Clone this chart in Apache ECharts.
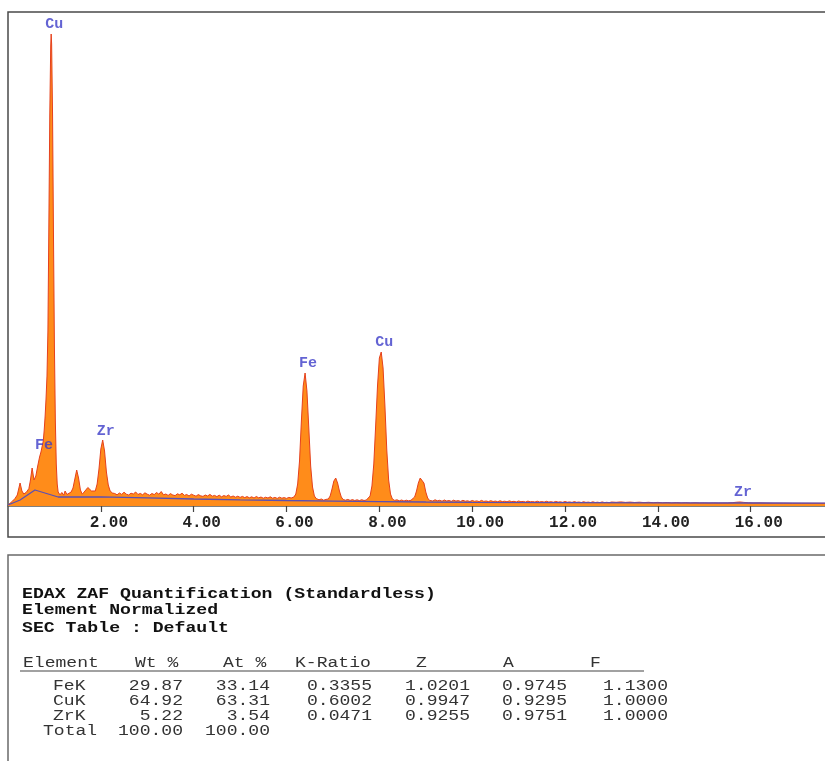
<!DOCTYPE html>
<html><head><meta charset="utf-8">
<script src="https://cdn.jsdelivr.net/npm/echarts@6/dist/echarts.min.js"></script>
<style>html,body{margin:0;padding:0;background:#fff}#c{width:825px;height:761px}</style>
</head><body><div id="c"></div>
<script>
// EDS spectrum: [energy keV, counts]
const spectrum = [
[0.00,10],[0.05,30],[0.10,50],[0.15,75],[0.20,110],[0.23,170],[0.26,230],[0.30,150],[0.34,120],
[0.40,140],[0.45,175],[0.48,250],[0.52,380],[0.56,260],[0.60,300],[0.64,400],[0.68,490],[0.71,540],
[0.74,560],[0.76,650],[0.78,760],[0.80,900],[0.82,1080],[0.84,1300],[0.86,1750],[0.88,2800],[0.90,3900],
[0.92,4600],[0.93,4720],[0.94,4620],[0.96,3900],[0.98,2700],[1.00,1600],[1.02,850],[1.04,420],[1.06,220],
[1.08,140],[1.12,112],[1.16,135],[1.20,108],[1.23,150],[1.27,115],[1.31,128],[1.36,140],[1.40,180],[1.44,270],
[1.48,360],[1.52,280],[1.56,160],[1.60,118],[1.64,140],[1.68,128],[1.72,185],[1.76,190],[1.80,150],
[1.84,130],[1.88,150],[1.92,220],[1.96,370],[2.00,570],[2.04,660],[2.08,550],[2.12,340],[2.16,210],
[2.20,150],[2.25,130],
[2.30,125],[2.35,112],[2.40,130],[2.45,116],[2.50,138],[2.55,118],[2.60,110],[2.65,128],[2.70,120],
[2.75,140],[2.80,115],[2.85,126],[2.90,112],[2.95,132],[3.00,118],[3.05,108],[3.10,125],[3.15,114],
[3.20,135],[3.25,118],[3.30,145],[3.35,112],[3.40,120],[3.45,106],[3.50,124],[3.55,110],[3.60,104],
[3.65,122],[3.70,112],[3.75,128],[3.80,106],[3.85,115],[3.90,100],[3.95,118],[4.00,108],[4.05,98],
[4.10,114],[4.15,102],[4.20,96],[4.25,110],[4.30,100],[4.35,116],[4.40,98],[4.45,106],[4.50,94],
[4.55,108],[4.60,92],[4.65,104],[4.70,96],[4.75,110],[4.80,90],[4.85,100],[4.90,88],[4.95,98],
[5.00,86],[5.05,96],[5.10,84],[5.15,94],[5.20,82],[5.25,92],[5.30,80],[5.35,95],[5.40,82],[5.45,90],
[5.50,78],[5.55,88],[5.60,80],[5.65,92],[5.70,78],[5.75,86],[5.80,76],[5.85,88],[5.90,78],[5.95,84],
[6.00,76],[6.05,86],[6.10,80],
[6.16,90],[6.20,120],[6.24,220],[6.28,450],[6.32,850],
[6.36,1200],[6.40,1330],[6.44,1150],[6.48,780],[6.52,400],[6.56,190],[6.60,100],[6.64,75],[6.70,62],
[6.75,70],[6.80,58],[6.85,66],[6.90,70],[6.94,100],[6.98,170],[7.02,250],[7.06,280],[7.10,230],
[7.14,150],[7.18,90],[7.22,65],[7.27,58],[7.32,66],[7.37,56],[7.42,64],[7.47,55],[7.52,62],[7.57,54],
[7.62,63],[7.67,55],[7.72,60],[7.76,70],[7.80,100],
[7.84,200],[7.88,420],[7.92,800],[7.96,1200],[8.00,1480],[8.04,1540],[8.08,1380],[8.12,1000],
[8.16,560],[8.20,260],[8.24,120],[8.28,70],[8.33,56],[8.38,62],[8.43,52],[8.48,60],[8.53,50],[8.58,58],
[8.63,52],[8.68,57],[8.72,62],
[8.76,90],[8.80,150],[8.84,230],[8.88,280],[8.92,290],[8.96,230],[9.00,140],[9.04,80],[9.08,56],
[9.15,50],[9.20,62],[9.25,52],[9.30,57],[9.35,48],[9.40,60],[9.45,50],[9.50,55],[9.55,47],[9.60,58],
[9.65,49],[9.70,54],[9.75,46],[9.80,57],[9.85,48],[9.90,52],[9.95,45],[10.00,55],[10.05,47],[10.10,51],
[10.15,44],[10.20,56],[10.25,46],[10.30,50],[10.35,44],[10.40,53],[10.45,45],[10.50,49],[10.55,43],
[10.60,52],[10.65,44],[10.70,48],[10.75,42],[10.80,51],[10.85,44],[10.90,47],[10.95,41],[11.00,50],
[11.05,43],[11.10,46],[11.15,40],[11.20,49],[11.25,42],[11.30,45],[11.35,40],[11.40,48],[11.45,41],
[11.50,44],[11.55,39],[11.60,47],[11.65,40],[11.70,43],[11.75,38],[11.80,46],[11.85,39],[11.90,42],
[11.95,37],[12.00,45],[12.05,38],[12.10,41],[12.15,36],[12.20,44],[12.25,37],[12.30,40],[12.35,35],
[12.40,43],[12.45,36],[12.50,39],[12.55,35],[12.60,42],[12.65,35],[12.70,38],[12.75,34],[12.80,41],
[12.85,34],[12.90,37],[12.95,33],[13.00,40],
[13.10,37],[13.20,41],[13.30,36],[13.40,39],[13.50,35],[13.60,38],[13.70,34],
[13.80,37],[13.90,33],[14.00,36],[14.10,32],[14.20,35],[14.30,31],[14.40,34],[14.50,31],[14.60,33],
[14.70,30],[14.80,32],[14.90,30],[15.00,31],[15.10,29],[15.20,31],[15.30,29],[15.40,30],[15.50,30],
[15.60,33],[15.70,38],[15.77,40],[15.85,36],[15.95,32],[16.05,30],[16.20,31],[16.35,29],[16.50,28],
[16.70,28],[16.90,27],[17.10,27],[17.30,27],[17.60,27]
];
// Background (bremsstrahlung) fit
const background = [
[0.00,10],[0.26,60],[0.58,160],[1.08,90],[2.00,92],[3.00,82],[4.00,70],[5.00,62],[6.00,55],
[7.00,49],[8.00,44],[9.00,40],[10.00,37],[12.00,34],[14.00,31],[16.00,30],[17.60,29]
];
// Peak identifications
const peakNames = ['Cu','Fe','Zr','Fe','Cu','Zr'];
const peakEnergy = [0.93,0.71,2.04,6.40,8.04,15.77];
const peakCounts = [4720,510,650,1330,1540,40];
const xTicks = [0,2,4,6,8,10,12,14,16];

// Quantification table
const titleLines = ['EDAX ZAF Quantification (Standardless)','Element Normalized','SEC Table : Default'];
const headers = ['Element','Wt %','At %','K-Ratio','Z','A','F'];
const elements = ['FeK','CuK','ZrK','Total'];
const wtPct = ['29.87','64.92','5.22','100.00'];
const atPct = ['33.14','63.31','3.54','100.00'];
const kRatio = ['0.3355','0.6002','0.0471',''];
const zCol = ['1.0201','0.9947','0.9255',''];
const aCol = ['0.9745','0.9295','0.9751',''];
const fCol = ['1.1300','1.0000','1.0000',''];

const chart = echarts.init(document.getElementById('c'));
const mono = "'Liberation Mono','DejaVu Sans Mono',monospace";

const graphics = [
  {type:'rect', shape:{x:8,y:12,width:840,height:525}, style:{fill:'none',stroke:'#4a4a4a',lineWidth:1.5}, silent:true},
  {type:'rect', shape:{x:8,y:555,width:840,height:230}, style:{fill:'none',stroke:'#6a6a6a',lineWidth:1.5}, silent:true}
];
const titleY = [594,610,628];
titleLines.forEach((t,i)=>{
  graphics.push({type:'text', x:22, y:titleY[i], scaleX:1.21,
    style:{text:t, font:'bold 15px '+mono, fill:'#111', textVerticalAlign:'middle'}});
});
const headerLeft = [23,135,223,295,416,503,590];
headers.forEach((h,i)=>{
  graphics.push({type:'text', x:headerLeft[i], y:663, scaleX:1.29,
    style:{text:h, font:'14px '+mono, fill:'#333', textVerticalAlign:'middle'}});
});
graphics.push({type:'line', shape:{x1:20,y1:671,x2:644,y2:671}, style:{stroke:'#444',lineWidth:1.2}});
const rowY = [686,701,716,731];
const cols = [elements,wtPct,atPct,kRatio,zCol,aCol,fCol];
const rightX = [null,183,270,372,470,567,668];
elements.forEach((el,r)=>{
  graphics.push({type:'text', x: r===3?43:53, y:rowY[r], scaleX:1.29,
    style:{text:el, font:'14px '+mono, fill:'#333', textVerticalAlign:'middle'}});
  for(let c=1;c<cols.length;c++){
    if(!cols[c][r]) continue;
    graphics.push({type:'text', x:rightX[c], y:rowY[r], scaleX:1.29,
      style:{text:cols[c][r], font:'14px '+mono, fill:'#333', textAlign:'right', textVerticalAlign:'middle'}});
  }
});

chart.setOption({
  animation:false,
  backgroundColor:'#fff',
  grid:{left:8, top:12, width:818.4, height:494, containLabel:false},
  xAxis:{type:'value', min:0, max:17.6, interval:2,
    axisLine:{lineStyle:{color:'#555', width:1.5}},
    axisTick:{show:true, length:6, lineStyle:{color:'#444', width:1.2}},
    axisLabel:{showMinLabel:false, showMaxLabel:false, margin:9, padding:[0,0,0,16],
      fontFamily:mono, fontWeight:'bold', fontSize:16, color:'#222',
      formatter:v=> xTicks.indexOf(v)>=0 ? v.toFixed(2) : ''},
    splitLine:{show:false}},
  yAxis:{type:'value', min:0, max:4940, show:false, splitLine:{show:false}},
  graphic:graphics,
  series:[
    {type:'line', data:spectrum, showSymbol:false, symbol:'none', z:2,
      lineStyle:{color:'#E5401C', width:1},
      areaStyle:{color:'#FF8C1A', opacity:1}},
    {type:'line', data:background, showSymbol:false, symbol:'none', z:3,
      lineStyle:{color:'#5A4FB5', width:1.3}},
    {type:'scatter', symbolSize:0, z:4,
      data: peakNames.map((n,i)=>({name:n, value:[peakEnergy[i], peakCounts[i]]})),
      label:{show:true, position:'top', distance:2, offset:[3,0], formatter:'{b}',
        fontFamily:mono, fontSize:15, fontWeight:'bold', color:'#3c3cc8'}}
  ]
});
</script></body></html>
